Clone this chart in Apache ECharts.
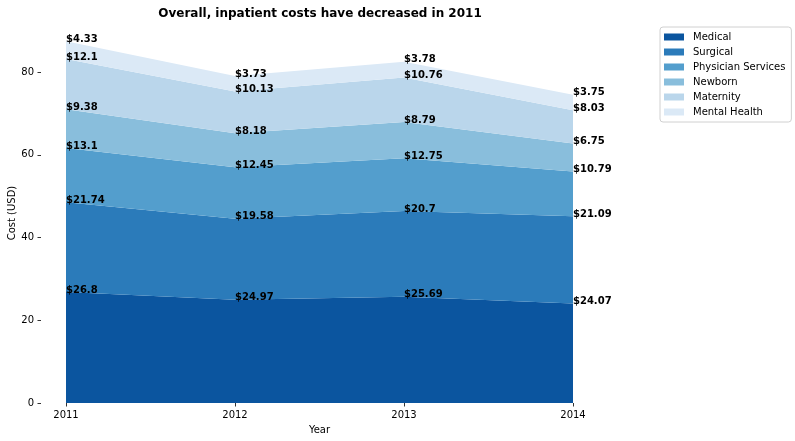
<!DOCTYPE html>
<html><head><meta charset="utf-8">
<script src="https://cdn.jsdelivr.net/npm/echarts@6/dist/echarts.min.js"></script>
<style>html,body{margin:0;padding:0;background:#fff}#c{width:795px;height:441px}</style>
</head><body><div id="c"></div>
<script>
const years = ['2011', '2012', '2013', '2014'];
const seriesNames = ['Medical', 'Surgical', 'Physician Services', 'Newborn', 'Maternity', 'Mental Health'];
const medical = [26.8, 24.97, 25.69, 24.07];
const surgical = [21.74, 19.58, 20.7, 21.09];
const physician = [13.1, 12.45, 12.75, 10.79];
const newborn = [9.38, 8.18, 8.79, 6.75];
const maternity = [12.1, 10.13, 10.76, 8.03];
const mentalHealth = [4.33, 3.73, 3.78, 3.75];
const yTicks = [0, 20, 40, 60, 80];
const colors = ['#0b559f', '#2b7bba', '#539ecd', '#89bedc', '#bad6eb', '#dbe9f6'];
const allValues = [medical, surgical, physician, newborn, maternity, mentalHealth];

const font = 'DejaVu Sans';
const series = allValues.map((vals, i) => ({
  name: seriesNames[i],
  type: 'line',
  stack: 'total',
  data: vals,
  symbol: 'circle',
  symbolSize: 0,
  showSymbol: true,
  itemStyle: { color: colors[i] },
  lineStyle: { width: 0, color: colors[i] },
  areaStyle: { color: colors[i], opacity: 1 },
  label: {
    show: true,
    position: [0, 3],
    align: 'left',
    verticalAlign: 'bottom',
    formatter: p => '$' + p.value,
    fontFamily: font,
    fontWeight: 'bold',
    fontSize: 10,
    color: '#000'
  },
  emphasis: { disabled: true },
  z: 2
}));

const chart = echarts.init(document.getElementById('c'), null, { renderer: 'canvas' });
chart.setOption({
  animation: false,
  backgroundColor: '#fff',
  color: colors,
  title: {
    text: 'Overall, inpatient costs have decreased in 2011',
    left: 315, top: 3, textAlign: 'center',
    textStyle: { fontFamily: font, fontWeight: 'bold', fontSize: 12, color: '#000' }
  },
  legend: {
    data: seriesNames,
    orient: 'vertical',
    left: 660, top: 27,
    icon: 'rect',
    itemWidth: 20, itemHeight: 7, itemGap: 5,
    padding: [5, 6, 5, 4],
    borderColor: '#d0d0d0', borderWidth: 1, borderRadius: 3,
    textStyle: { fontFamily: font, fontSize: 10, color: '#000', padding: [0, 0, 0, 4] }
  },
  grid: { left: 66, right: 222, top: 23.1, bottom: 38, containLabel: false, outerBoundsMode: 'none' },
  xAxis: {
    type: 'category', data: years, boundaryGap: false,
    name: 'Year', nameLocation: 'middle', nameGap: 22, nameMoveOverlap: false,
    nameTextStyle: { fontFamily: font, fontSize: 10, color: '#000' },
    axisLine: { show: false },
    splitLine: { show: false },
    axisTick: { show: true, length: 3.5, lineStyle: { color: '#333' } },
    axisLabel: { fontFamily: font, fontSize: 10, color: '#000', margin: 7 }
  },
  yAxis: {
    type: 'value', min: 0, max: 91.82, offset: 25,
    name: 'Cost (USD)', nameLocation: 'middle', nameGap: 24, nameRotate: 90, nameMoveOverlap: false,
    nameTextStyle: { fontFamily: font, fontSize: 10, color: '#000' },
    axisLine: { show: false },
    splitLine: { show: false },
    axisTick: { show: true, length: 3.5, customValues: yTicks, lineStyle: { color: '#333' } },
    axisLabel: { customValues: yTicks, fontFamily: font, fontSize: 10, color: '#000', margin: 7 }
  },
  series: series
});
</script></body></html>
